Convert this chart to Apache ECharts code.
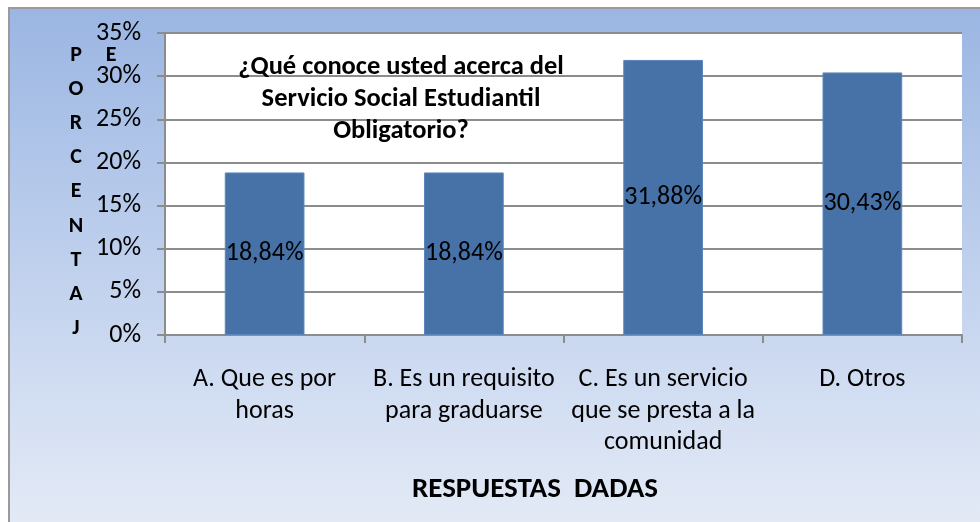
<!DOCTYPE html>
<html>
<head>
<meta charset="utf-8">
<script src="https://cdn.jsdelivr.net/npm/echarts@6/dist/echarts.min.js"></script>
<style>
  body{margin:0;background:#fff;}
  .frame{
    position:absolute;left:8px;top:7px;width:972px;height:515px;
    box-sizing:border-box;border-left:2px solid #9a9a9a;border-top:2px solid #9a9a9a;
    background:linear-gradient(to bottom,#9bb6e3 0%,#c3d3ee 55%,#e3eaf6 100%);
  }
  #main{position:absolute;left:0;top:0;width:980px;height:522px;}
</style>
</head>
<body>
<div class="frame"></div>
<div id="main"></div>
<script>
  var categories = ['A. Que es por\nhoras', 'B. Es un requisito\npara graduarse', 'C. Es un servicio\nque se presta a la\ncomunidad', 'D. Otros'];
  var values = [18.84, 18.84, 31.88, 30.43];
  var chartTitle = '¿Qué conoce usted acerca del\nServicio Social Estudiantil\nObligatorio?';
  var yName = 'P\nO\nR\nC\nE\nN\nT\nA\nJ';
  var xName = 'RESPUESTAS  DADAS';

  var font = "Carlito, 'Liberation Sans Narrow', 'Liberation Sans', sans-serif";
  var myChart = echarts.init(document.getElementById('main'));
  var option = {
    backgroundColor: 'transparent',
    textStyle: { fontFamily: font },
    grid: {
      left: 165, top: 33, right: 18, bottom: 187,
      show: true, backgroundColor: '#ffffff', borderWidth: 0
    },
    xAxis: {
      type: 'category',
      data: categories,
      axisLine: { lineStyle: { color: '#8c8c8c', width: 2 } },
      axisTick: { show: true, length: 8, lineStyle: { color: '#8c8c8c', width: 2 } },
      axisLabel: { color: '#000', fontSize: 26, lineHeight: 31.5, margin: 29, fontFamily: font, interval: 0 }
    },
    yAxis: {
      type: 'value',
      min: 0, max: 35, interval: 5,
      axisLine: { show: true, lineStyle: { color: '#8c8c8c', width: 2 } },
      axisTick: { show: true, length: 8, lineStyle: { color: '#8c8c8c', width: 2 } },
      splitLine: { lineStyle: { color: '#8c8c8c', width: 2 } },
      axisLabel: { color: '#000', fontSize: 26, margin: 24, formatter: '{value}%', fontFamily: font }
    },
    series: [{
      type: 'bar',
      data: values,
      barCategoryGap: '60%',
      itemStyle: { color: '#4672a8', borderColor: '#5a86bb', borderWidth: 1 },
      label: {
        show: true, position: 'inside', color: '#000', fontSize: 26, fontFamily: font,
        formatter: function (p) { return p.value.toFixed(2).replace('.', ',') + '%'; }
      }
    }],
    graphic: [
      { type: 'text', x: 401, y: 51, z: 10,
        style: { text: chartTitle, fill: '#000', font: 'bold 26.5px ' + font, textAlign: 'center', lineHeight: 32, align: 'center' } },
      { type: 'text', x: 76, y: 38, z: 10,
        style: { text: yName, fill: '#000', font: 'bold 22px ' + font, lineHeight: 34.2, align: 'center', textAlign: 'center' } },
      { type: 'text', x: 111, y: 38, z: 10,
        style: { text: 'E', fill: '#000', font: 'bold 22px ' + font, lineHeight: 34.2, textAlign: 'center' } },
      { type: 'text', x: 535, y: 473, z: 10,
        style: { text: xName, fill: '#000', font: 'bold 29px ' + font, textAlign: 'center', lineHeight: 34 } }
    ]
  };
  myChart.setOption(option);
</script>
</body>
</html>
